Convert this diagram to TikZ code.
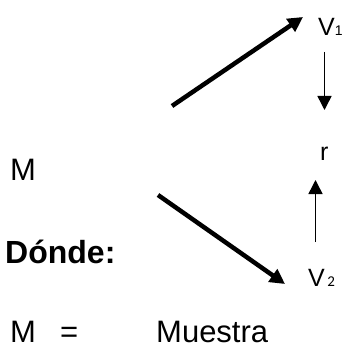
\documentclass[tikz,border=0pt]{standalone}
\usepackage{fontspec}
\setmainfont{Liberation Sans}
\newfontfamily\calib{Carlito}
\usetikzlibrary{arrows.meta}
\begin{document}
\begin{tikzpicture}[x=1pt,y=-1pt,
  lbl/.style={inner sep=0pt,anchor=base west,font=\fontsize{31}{36}\selectfont},
  vlbl/.style={inner sep=0pt,anchor=base west,font=\fontsize{25}{30}\selectfont},
  bigarrow/.style={line width=4.5pt,-{Triangle[length=15pt,width=15pt]}},
  thinarrow/.style={line width=1.5pt,-{Triangle[length=14pt,width=14pt]}}]
\useasboundingbox (0,0) rectangle (344,344);
\node[lbl] (m) at (10,180) {M};
\node[lbl,font=\fontsize{32}{36}\selectfont\bfseries] (donde) at (5,263) {Dónde:};
\node[lbl] (m2) at (10,342.5) {M};
\node[lbl] (eq) at (60,342.5) {=};
\node[lbl] (muestra) at (156,342.5) {Muestra};
\node[vlbl] (v1) at (318,36) {V\fontsize{14}{14}\selectfont 1};
\node[vlbl] (r) at (320,161) {r};
\node[vlbl] (v2) at (308,286) {V\fontsize{15}{15}\selectfont\calib\,2};
\coordinate (a1s) at (172,106);
\coordinate (a1e) at (303,17);
\coordinate (a2s) at (158,195);
\coordinate (a2e) at (285,284);
\coordinate (d1s) at (324.5,52);
\coordinate (d1e) at (324.5,110);
\coordinate (u1s) at (315.5,242);
\coordinate (u1e) at (315.5,180);
\draw[bigarrow] (a1s) -- (a1e);
\draw[bigarrow] (a2s) -- (a2e);
\draw[thinarrow] (d1s) -- (d1e);
\draw[thinarrow] (u1s) -- (u1e);
\end{tikzpicture}
\end{document}
